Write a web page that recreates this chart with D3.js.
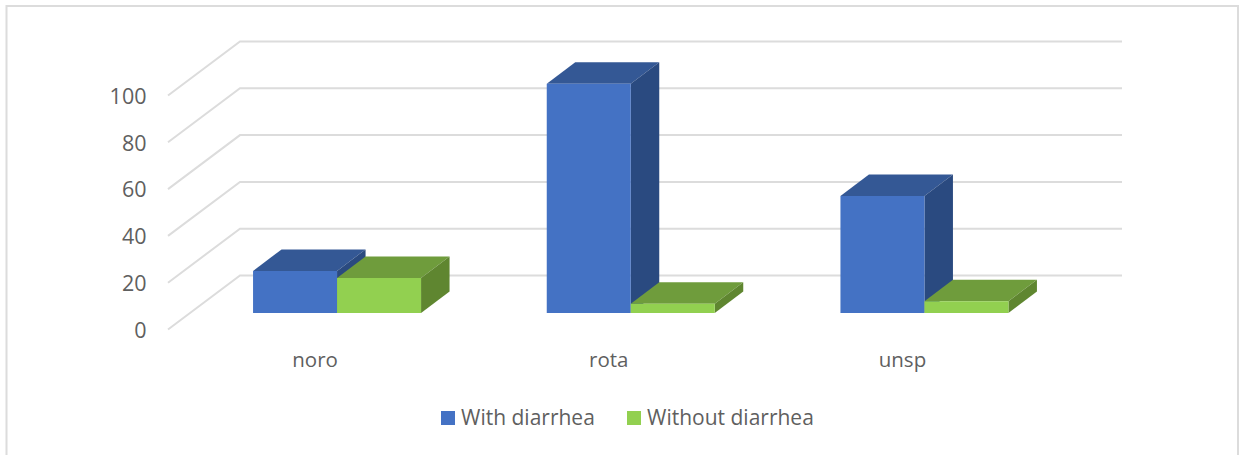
<!DOCTYPE html>
<html>
<head>
<meta charset="utf-8">
<script src="https://cdnjs.cloudflare.com/ajax/libs/d3/7.8.5/d3.min.js"></script>
<style>
  html, body { margin: 0; padding: 0; background: #fff; overflow: hidden; }
  svg { display: block; }
  text { font-family: "Open Sans", sans-serif; fill: #5f5f5f; }
</style>
</head>
<body>
<svg id="chart" width="1239" height="455"></svg>
<script>
const categories = ["noro", "rota", "unsp"];
const seriesNames = ["With diarrhea", "Without diarrhea"];
const withDiarrhea = [18, 98, 50];
const withoutDiarrhea = [15, 4, 5];
const tickValues = [0, 20, 40, 60, 80, 100];

const frontColors = ["#4472c4", "#92d050"];
const topColors = ["#345895", "#6f9c3c"];
const sideColors = ["#2a4a80", "#5f8630"];
const gridColor = "#dcdcdc";

const svg = d3.select("#chart");

// Chart frame; its lower edge falls outside the page
svg.append("rect")
  .attr("x", 6.5).attr("y", 6)
  .attr("width", 1231.5).attr("height", 470)
  .attr("fill", "#fff").attr("stroke", gridColor).attr("stroke-width", 2);

// Oblique projection: the floor recedes up and to the right
const floorDepth = { dx: 72, dy: -54 };
const barDepth = { dx: 28.5, dy: -21.5 };

const yAxisScale = d3.scaleLinear().domain([0, 100]).range([329.5, 95.5]);
const yBar = d3.scaleLinear().domain([0, 100]).range([313, 79]);
const xCategory = d3.scaleBand().domain(categories).range([190.2, 1071.3]);
const xSeries = d3.scaleBand().domain(d3.range(seriesNames.length)).range([-84, 84]);

// Side-wall and back-wall gridlines
const gridPath = v => {
  const x0 = 168, y0 = yAxisScale(v);
  return d3.line()([[x0, y0], [x0 + floorDepth.dx, y0 + floorDepth.dy], [1122, y0 + floorDepth.dy]]);
};
svg.append("g").selectAll("path").data(tickValues).join("path")
  .attr("d", gridPath)
  .attr("fill", "none")
  .attr("stroke", gridColor)
  .attr("stroke-width", 2);

// Value axis
const yAxis = svg.append("g")
  .attr("transform", "translate(146.5,1)")
  .call(d3.axisLeft(yAxisScale).tickValues(tickValues).tickSize(0).tickPadding(0));
yAxis.select(".domain").remove();
yAxis.selectAll("text").style("font-size", "21.5px");

// Category axis, set in front of the bars' floor position
const xAxis = svg.append("g")
  .attr("transform", "translate(-22,352)")
  .call(d3.axisBottom(xCategory).tickSize(0).tickPadding(0));
xAxis.select(".domain").remove();
xAxis.selectAll("text").style("font-size", "20.5px");

// Extruded bars: each series is drawn after the previous one so it overlaps correctly
const bars = categories.flatMap((c, i) => [
  { c, s: 0, v: withDiarrhea[i] },
  { c, s: 1, v: withoutDiarrhea[i] }
]);
const poly = pts => d3.line()(pts) + "Z";
const barGroup = svg.append("g").selectAll("g").data(bars).join("g");

const corners = d => {
  const cx = xCategory(d.c) + xCategory.bandwidth() / 2;
  const x0 = cx + xSeries(d.s), x1 = x0 + xSeries.bandwidth();
  return { x0, x1, yt: yBar(d.v), yb: yBar(0) };
};
barGroup.append("path")
  .attr("d", d => {
    const { x0, x1, yt } = corners(d);
    return poly([[x0, yt], [x1, yt], [x1 + barDepth.dx, yt + barDepth.dy], [x0 + barDepth.dx, yt + barDepth.dy]]);
  })
  .attr("fill", d => topColors[d.s]);
barGroup.append("path")
  .attr("d", d => {
    const { x1, yt, yb } = corners(d);
    return poly([[x1, yt], [x1 + barDepth.dx, yt + barDepth.dy], [x1 + barDepth.dx, yb + barDepth.dy], [x1, yb]]);
  })
  .attr("fill", d => sideColors[d.s]);
barGroup.append("path")
  .attr("d", d => {
    const { x0, x1, yt, yb } = corners(d);
    return poly([[x0, yt], [x1, yt], [x1, yb], [x0, yb]]);
  })
  .attr("fill", d => frontColors[d.s]);

// Legend
const legendX = d3.scaleOrdinal().domain(seriesNames).range([441, 627]);
const legend = svg.append("g").selectAll("g").data(seriesNames).join("g")
  .attr("transform", d => `translate(${legendX(d)},411)`);
legend.append("rect")
  .attr("width", 14).attr("height", 14)
  .attr("fill", (d, i) => frontColors[i]);
legend.append("text")
  .attr("x", 20).attr("y", 14)
  .style("font-size", "21px")
  .text(d => d);
</script>
</body>
</html>
